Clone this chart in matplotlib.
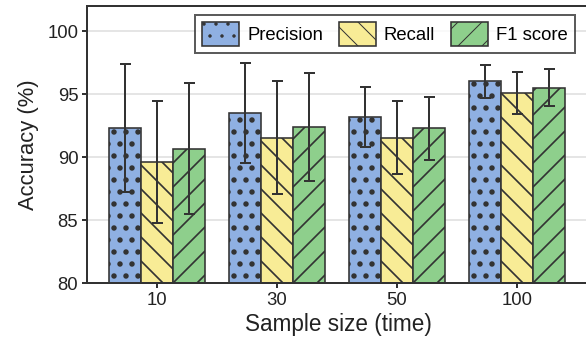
import numpy as np
import matplotlib
matplotlib.use('Agg')
import matplotlib.pyplot as plt

plt.rcParams['font.family'] = ['Liberation Sans', 'DejaVu Sans']
plt.rcParams['hatch.color'] = '#111111'

sizes = ['10', '30', '50', '100']
precision = [92.3, 93.5, 93.2, 96.0]
precision_err = [5.1, 3.95, 2.4, 1.3]
recall = [89.6, 91.55, 91.55, 95.1]
recall_err = [4.85, 4.5, 2.9, 1.65]
f1 = [90.65, 92.4, 92.3, 95.5]
f1_err = [5.2, 4.3, 2.5, 1.45]

# name, values, errors, colour, hatch, hatch line width
series = [
    ('Precision', precision, precision_err, '#8fb0e2', '.', 3.0),
    ('Recall', recall, recall_err, '#f8ec96', '\\', 1.7),
    ('F1 score', f1, f1_err, '#8ecf8c', '/', 1.7),
]

dark = '#333333'
fig = plt.figure(figsize=(586 / 72, 346 / 72), dpi=72)
ax = fig.add_axes([0.149, 0.182, 0.856, 0.801])

x = np.arange(len(sizes))
w = 0.267
for i, (name, vals, errs, col, h, hlw) in enumerate(series):
    with plt.rc_context({'hatch.linewidth': hlw}):
        ax.bar(x + (i - 1) * w, vals, w, color=col, edgecolor=dark, linewidth=1.6,
               hatch=h, label=name, zorder=2)
    ax.errorbar(x + (i - 1) * w, vals, yerr=errs, fmt='none', ecolor=dark,
                elinewidth=2, capsize=5.5, capthick=2, zorder=3)

ax.set_ylim(80, 102)
ax.set_xlim(-0.58, 3.60)
ax.set_yticks([80, 85, 90, 95, 100])
ax.set_xticks(x)
ax.set_xticklabels(sizes)
ax.yaxis.grid(True, color='#dddddd', linewidth=1.5, zorder=0)
ax.set_axisbelow(True)
for s in ax.spines.values():
    s.set_color(dark)
    s.set_linewidth(2)
ax.tick_params(axis='both', colors=dark, labelsize=18.5, width=2,
               length=5, pad=4, direction='out', labelcolor='#222222')
ax.set_xlabel('Sample size (time)', fontsize=22.5, color='#222222', labelpad=4)
ax.set_ylabel('Accuracy (%)', fontsize=22, color='#222222', labelpad=8)

leg = ax.legend(loc='upper right', ncol=3, fontsize=18.5, frameon=True,
                fancybox=False, edgecolor=dark, handlelength=2.0,
                handleheight=1.6, columnspacing=0.86, handletextpad=0.43,
                borderpad=0.4, borderaxespad=0, bbox_to_anchor=(0.973, 0.9675))
leg.get_frame().set_linewidth(2)

fig.savefig('out.png', dpi=72)
